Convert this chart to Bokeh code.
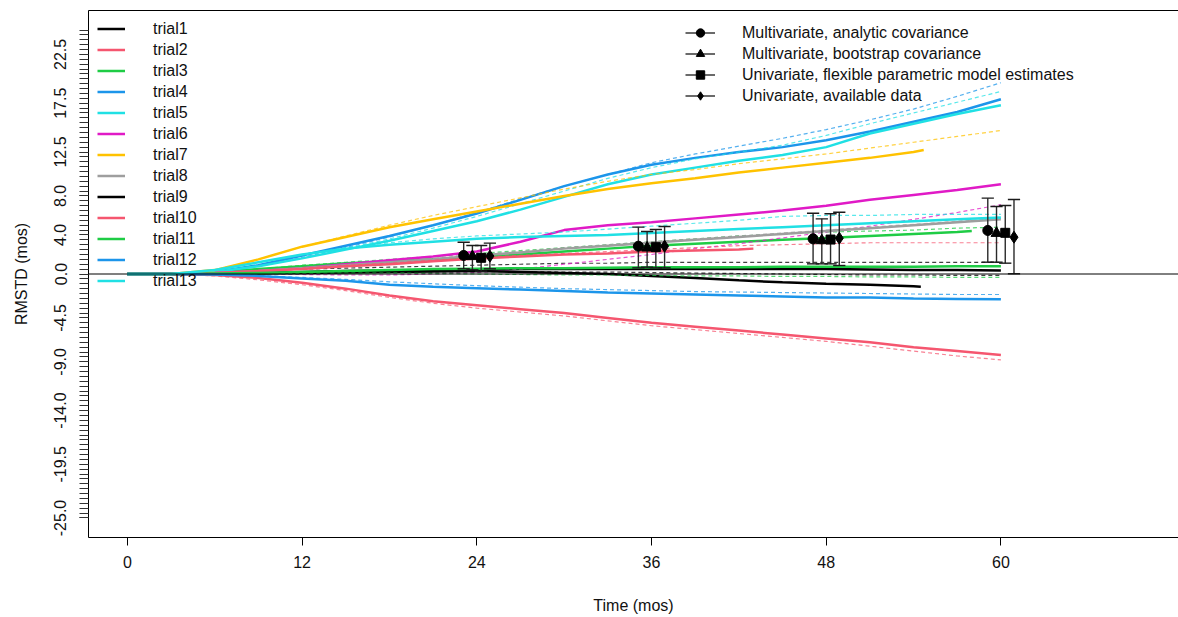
from bokeh.plotting import figure
from bokeh.models import (Range1d, FixedTicker, PrintfTickFormatter, LinearAxis,
                          Span, Legend, LegendItem)
from bokeh.embed import file_html
from bokeh.resources import INLINE

# ---- data -------------------------------------------------------------
month_grid = [0, 3, 6, 9, 12, 15, 18, 21, 24, 27, 30, 33, 36, 39, 42, 45, 48, 51, 54, 57, 60]

trial_names = ["trial1", "trial2", "trial3", "trial4", "trial5", "trial6", "trial7",
               "trial8", "trial9", "trial10", "trial11", "trial12", "trial13"]
trial_colors = ["#000000", "#F5566F", "#1FCC45", "#1C95EA", "#20E0E4", "#E01AC6",
                "#FFC200", "#9E9E9E", "#000000", "#F5566F", "#1FCC45", "#1C95EA", "#20E0E4"]
# last month of follow-up of the observed (solid) curve
trial_end = [60, 60, 58, 60, 60, 60, 54.7, 60, 54.5, 43, 60, 60, 60]

# observed RMST difference per trial (solid)
obs_trial1 = [0, 0, 0.05, 0.1, 0.2, 0.3, 0.35, 0.4, 0.45, 0.5, 0.5, 0.5, 0.5, 0.5, 0.5, 0.5, 0.5, 0.45, 0.4, 0.4, 0.35]
obs_trial2 = [0, 0, -0.1, -0.4, -0.9, -1.5, -2.2, -2.8, -3.2, -3.6, -4.0, -4.5, -5.0, -5.4, -5.8, -6.2, -6.6, -7.0, -7.5, -7.9, -8.3]
obs_trial3 = [0, 0, 0.2, 0.5, 0.8, 1.1, 1.3, 1.5, 1.7, 2.0, 2.3, 2.6, 2.9, 3.1, 3.3, 3.5, 3.7, 3.9, 4.1, 4.3, 4.4]
obs_trial4 = [0, 0, 0.2, 0.9, 1.9, 2.9, 3.9, 5.0, 6.2, 7.6, 9.0, 10.2, 11.2, 11.9, 12.5, 13.0, 13.7, 14.6, 15.6, 16.6, 17.9]
obs_trial5 = [0, 0, 0.2, 0.8, 1.6, 2.5, 3.4, 4.4, 5.4, 6.6, 7.9, 9.2, 10.2, 10.9, 11.6, 12.2, 13.0, 14.4, 15.4, 16.4, 17.3]
obs_trial6 = [0, 0, 0.1, 0.3, 0.6, 1.0, 1.4, 1.8, 2.3, 3.3, 4.5, 5.0, 5.3, 5.7, 6.1, 6.5, 7.0, 7.6, 8.1, 8.6, 9.2]
obs_trial7 = [0, 0, 0.4, 1.5, 2.8, 3.8, 4.8, 5.6, 6.4, 7.2, 8.0, 8.7, 9.3, 9.8, 10.4, 10.9, 11.4, 11.9, 12.5, 12.7]
obs_trial8 = [0, 0, 0.1, 0.3, 0.6, 0.9, 1.2, 1.5, 1.9, 2.2, 2.6, 2.9, 3.2, 3.5, 3.8, 4.1, 4.4, 4.7, 5.0, 5.3, 5.6]
obs_trial9 = [0, 0, 0, 0.05, 0.1, 0.15, 0.2, 0.25, 0.3, 0.2, 0.1, 0, -0.2, -0.4, -0.65, -0.85, -1.0, -1.1, -1.25, -1.3]
obs_trial10 = [0, 0, 0.1, 0.3, 0.5, 0.8, 1.0, 1.3, 1.6, 1.8, 2.0, 2.1, 2.3, 2.4, 2.5, 2.6]
obs_trial11 = [0, 0, 0.05, 0.1, 0.2, 0.3, 0.4, 0.5, 0.55, 0.6, 0.6, 0.65, 0.7, 0.7, 0.7, 0.75, 0.75, 0.75, 0.75, 0.8, 0.8]
obs_trial12 = [0, 0, -0.05, -0.2, -0.45, -0.7, -1.1, -1.3, -1.45, -1.6, -1.75, -1.9, -2.0, -2.1, -2.2, -2.3, -2.4, -2.4, -2.5, -2.55, -2.6]
obs_trial13 = [0, 0, 0.4, 1.2, 2.0, 2.6, 3.0, 3.3, 3.6, 3.8, 3.9, 4.0, 4.2, 4.4, 4.6, 4.8, 5.0, 5.2, 5.4, 5.6, 5.8]

# flexible parametric model fit per trial, to 60 months (dashed)
fpm_trial1 = [0, 0, 0.1, 0.3, 0.5, 0.6, 0.7, 0.8, 0.9, 1.0, 1.1, 1.1, 1.2, 1.2, 1.2, 1.2, 1.2, 1.2, 1.2, 1.2, 1.2]
fpm_trial2 = [0, 0, -0.2, -0.6, -1.1, -1.7, -2.4, -3.0, -3.5, -3.9, -4.3, -4.8, -5.3, -5.7, -6.1, -6.5, -6.9, -7.4, -7.9, -8.4, -8.8]
fpm_trial3 = [0, 0, 0.2, 0.5, 0.9, 1.2, 1.5, 1.8, 2.1, 2.4, 2.7, 3.0, 3.3, 3.6, 3.9, 4.1, 4.3, 4.4, 4.5, 4.7, 4.8]
fpm_trial4 = [0, 0, 0.2, 0.8, 1.7, 2.7, 3.8, 5.0, 6.3, 7.7, 9.0, 10.2, 11.4, 12.3, 13.1, 13.9, 14.8, 15.8, 16.9, 18.2, 19.6]
fpm_trial5 = [0, 0, 0.2, 0.8, 1.6, 2.6, 3.6, 4.7, 5.9, 7.2, 8.5, 9.8, 10.9, 11.8, 12.5, 13.2, 14.2, 15.4, 16.5, 17.6, 18.7]
fpm_trial6 = [0, 0, 0, 0, -0.05, -0.1, -0.1, 0.0, 0.15, 0.5, 1.0, 1.5, 2.0, 2.6, 3.1, 3.7, 4.3, 4.9, 5.6, 6.3, 7.1]
fpm_trial7 = [0, 0, 0.4, 1.5, 2.8, 3.9, 5.0, 6.0, 6.9, 7.8, 8.7, 9.5, 10.2, 10.7, 11.3, 11.8, 12.3, 12.9, 13.5, 14.1, 14.7]
fpm_trial8 = [0, 0, 0.1, 0.3, 0.6, 0.9, 1.2, 1.6, 2.0, 2.3, 2.7, 3.0, 3.3, 3.6, 3.9, 4.2, 4.5, 4.8, 5.1, 5.4, 5.7]
fpm_trial9 = [0, 0, 0, 0.05, 0.1, 0.15, 0.2, 0.2, 0.25, 0.25, 0.2, 0.2, 0.15, 0.1, 0.05, 0.0, -0.05, -0.1, -0.1, -0.15, -0.15]
fpm_trial10 = [0, 0, 0.1, 0.3, 0.6, 0.9, 1.1, 1.4, 1.7, 1.9, 2.1, 2.3, 2.5, 2.7, 2.9, 3.0, 3.1, 3.2, 3.2, 3.2, 3.2]
fpm_trial11 = [0, 0, 0, 0, 0.05, 0.1, 0.1, 0.05, 0, -0.05, -0.1, -0.1, -0.15, -0.2, -0.2, -0.25, -0.25, -0.3, -0.3, -0.35, -0.35]
fpm_trial12 = [0, 0, -0.05, -0.15, -0.35, -0.55, -0.8, -1.0, -1.2, -1.35, -1.5, -1.6, -1.7, -1.8, -1.85, -1.9, -1.95, -2.0, -2.05, -2.1, -2.1]
fpm_trial13 = [0, 0, 0.4, 1.2, 2.0, 2.7, 3.2, 3.6, 3.9, 4.1, 4.3, 4.6, 4.9, 5.2, 5.5, 5.9, 6.0, 6.0, 6.1, 6.1, 6.1]

obs_series = [obs_trial1, obs_trial2, obs_trial3, obs_trial4, obs_trial5, obs_trial6, obs_trial7,
              obs_trial8, obs_trial9, obs_trial10, obs_trial11, obs_trial12, obs_trial13]
fpm_series = [fpm_trial1, fpm_trial2, fpm_trial3, fpm_trial4, fpm_trial5, fpm_trial6, fpm_trial7,
              fpm_trial8, fpm_trial9, fpm_trial10, fpm_trial11, fpm_trial12, fpm_trial13]

# pooled estimates with 95% intervals
pooled_months = [24, 36, 48, 60]
method_names = ["Multivariate, analytic covariance", "Multivariate, bootstrap covariance",
                "Univariate, flexible parametric model estimates", "Univariate, available data"]
pooled_est = [[1.9, 2.85, 3.6, 4.46], [1.8, 2.68, 3.43, 4.18],
              [1.66, 2.75, 3.53, 4.22], [1.83, 2.85, 3.67, 3.77]]
pooled_lo = [[0.53, 0.63, 1.04, 1.21], [0.43, 0.7, 1.04, 1.21],
             [0.29, 0.63, 1.04, 1.11], [0.53, 0.63, 0.87, 0.02]]
pooled_hi = [[3.26, 4.8, 6.23, 7.77], [2.92, 4.35, 5.65, 6.92],
             [2.92, 4.56, 6.17, 7.02], [3.16, 4.87, 6.33, 7.63]]
method_markers = ["circle", "triangle", "square", "diamond"]

ytick_vals = [-25, -19.5, -14, -9, -4.5, 0, 4, 8, 12.5, 17.5, 22.5]
xtick_vals = [0, 12, 24, 36, 48, 60]

# ---- figure -----------------------------------------------------------
FONT = "Liberation Sans"

p = figure(width=1178, height=617, x_range=Range1d(-2.67, 72.2), y_range=Range1d(-27, 27),
           output_backend="svg", toolbar_location=None,
           min_border_left=88, min_border_right=0, min_border_top=10, min_border_bottom=80)
p.grid.visible = False
p.outline_line_color = None
p.background_fill_color = "white"
p.border_fill_color = "white"

xa = p.xaxis[0]
xa.ticker = FixedTicker(ticks=xtick_vals, minor_ticks=[])
xa.axis_label = "Time (mos)"
xa.axis_line_color = "black"
xa.major_tick_out = 8
xa.major_tick_in = 0
xa.major_tick_line_color = "black"
xa.major_label_standoff = 10
xa.axis_label_standoff = 26
xa.major_label_text_font = FONT
xa.major_label_text_font_size = "16px"
xa.major_label_text_color = "#111111"
xa.axis_label_text_font = FONT
xa.axis_label_text_font_size = "16px"
xa.axis_label_text_font_style = "normal"
xa.axis_label_text_color = "#111111"

ya = p.yaxis[0]
ya.ticker = FixedTicker(ticks=ytick_vals, minor_ticks=[v / 2 for v in range(-50, 51)])
ya.formatter = PrintfTickFormatter(format="%.1f")
ya.major_label_orientation = "parallel"
ya.axis_label = "RMSTD (mos)"
ya.axis_line_color = "black"
ya.major_tick_out = 9
ya.major_tick_in = 0
ya.minor_tick_out = 9
ya.minor_tick_in = 0
ya.major_tick_line_color = "#333333"
ya.minor_tick_line_color = "#333333"
ya.major_label_standoff = 13
ya.axis_label_standoff = 22
ya.major_label_text_font = FONT
ya.major_label_text_font_size = "16px"
ya.major_label_text_color = "#111111"
ya.axis_label_text_font = FONT
ya.axis_label_text_font_size = "16px"
ya.axis_label_text_font_style = "normal"
ya.axis_label_text_color = "#111111"

# top edge of the plot box
top = LinearAxis(ticker=FixedTicker(ticks=[]), major_label_text_font_size="0px",
                 major_tick_out=0, major_tick_in=0, major_label_standoff=0,
                 axis_line_color="black")
p.add_layout(top, "above")

p.add_layout(Span(location=0, dimension="width", line_color="black", line_width=1))

# ---- per-trial curves -------------------------------------------------
trial_items = []
for name, color, end, obs, fpm in zip(trial_names, trial_colors, trial_end, obs_series, fpm_series):
    t_obs = [m for m in month_grid if m < end] + [end]
    p.line(month_grid, fpm, line_color=color, line_width=1.2, line_dash="4 3", line_alpha=0.75)
    r = p.line(t_obs[:len(obs)], obs, line_color=color, line_width=2.5)
    trial_items.append(LegendItem(label=name, renderers=[r]))

# ---- pooled estimates -------------------------------------------------
offsets = [-0.9, -0.3, 0.3, 0.9]
cap = 0.42
method_items = []
for name, marker, off, est, lo, hi in zip(method_names, method_markers, offsets,
                                          pooled_est, pooled_lo, pooled_hi):
    xs = [m + off for m in pooled_months]
    stem = p.segment(x0=xs, y0=lo, x1=xs, y1=hi, line_color="#2a2a2a", line_width=1.4)
    p.segment(x0=[x - cap for x in xs], y0=hi, x1=[x + cap for x in xs], y1=hi,
              line_color="#1a1a1a", line_width=1.4)
    p.segment(x0=[x - cap for x in xs], y0=lo, x1=[x + cap for x in xs], y1=lo,
              line_color="#1a1a1a", line_width=1.4)
    size = {"circle": 10, "triangle": 11, "square": 9, "diamond": 12}[marker]
    pts = p.scatter(xs, est, marker=marker, size=size, fill_color="black", line_color="black")
    method_items.append(LegendItem(label=name, renderers=[stem, pts]))

legend_style = dict(label_text_font=FONT, label_text_font_size="16px", label_text_color="#111111",
                    border_line_color=None, background_fill_alpha=0, padding=0, margin=0,
                    spacing=0, label_height=21, glyph_height=21)

left_legend = Legend(items=trial_items, location=(9, 246), glyph_width=28,
                     label_standoff=28, **legend_style)
right_legend = Legend(items=method_items, location=(597, 431), glyph_width=30,
                      label_standoff=27, **legend_style)
p.add_layout(left_legend, "center")
p.add_layout(right_legend, "center")

open("out.html", "w").write(file_html(p, INLINE))
